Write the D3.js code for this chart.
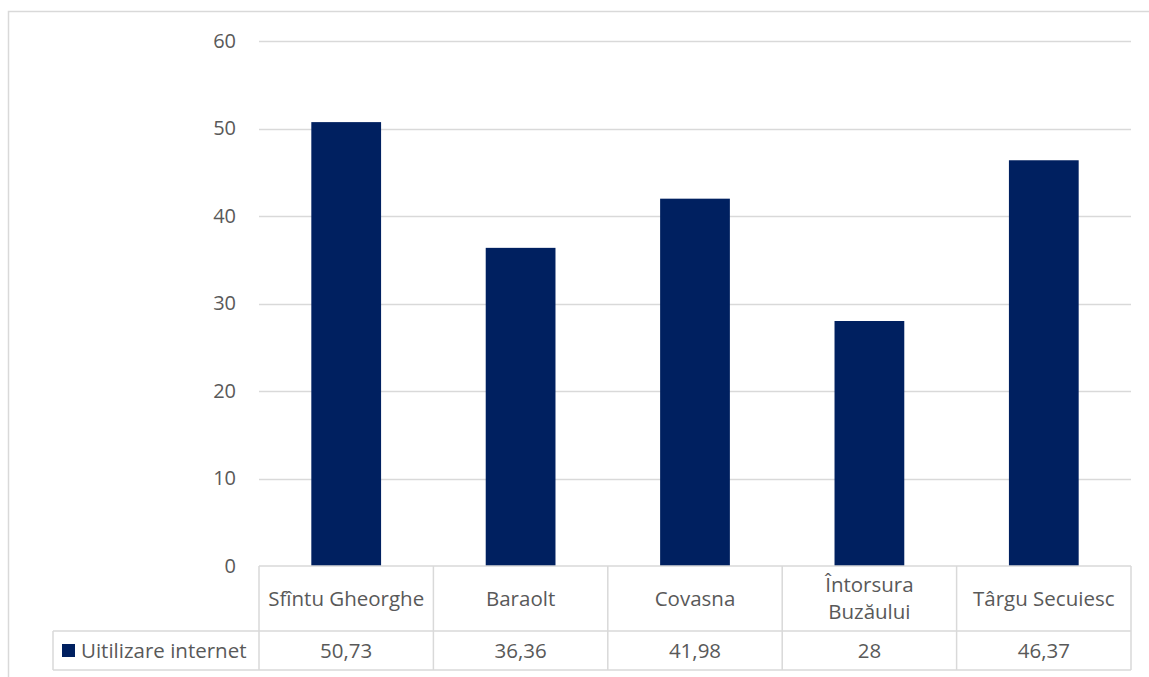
<!DOCTYPE html>
<html><head><meta charset="utf-8">
<script src="https://cdn.jsdelivr.net/npm/d3@7"></script>
<style>body{margin:0;background:#fff;} svg{display:block;}</style>
</head><body>
<script>
const categories = ["Sfîntu Gheorghe", "Baraolt", "Covasna", "Întorsura Buzăului", "Târgu Secuiesc"];
const categoryLines = [["Sfîntu Gheorghe"], ["Baraolt"], ["Covasna"], ["Întorsura", "Buzăului"], ["Târgu Secuiesc"]];
const seriesName = "Uitilizare internet";
const values = [50.73, 36.36, 41.98, 28, 46.37];
const valueLabels = ["50,73", "36,36", "41,98", "28", "46,37"];
const yTicks = [0, 10, 20, 30, 40, 50, 60];

const W = 1149, H = 677;
const font = "'Open Sans', sans-serif";
const textColor = "#595959";
const gridColor = "#d9d9d9";
const barColor = "#002060";
const fs = 20.5;

const svg = d3.select("body").append("svg").attr("width", W).attr("height", H);

// outer chart border
svg.append("rect").attr("x", 8.5).attr("y", 11.5).attr("width", W + 20).attr("height", H + 20)
  .attr("fill", "none").attr("stroke", gridColor).attr("stroke-width", 1.5);

const x = d3.scaleBand().domain(categories).range([259, 1131]).paddingInner(0.6).paddingOuter(0.3);
const xb = d3.scaleBand().domain(categories).range([259, 1131]);
const y = d3.scaleLinear().domain([0, 60]).range([566, 41]);

// gridlines
svg.append("g").selectAll("line").data(yTicks.filter(d => d > 0)).join("line")
  .attr("x1", 259).attr("x2", 1131)
  .attr("y1", d => Math.round(y(d)) + 0.5).attr("y2", d => Math.round(y(d)) + 0.5)
  .attr("stroke", gridColor).attr("stroke-width", 1.5);

// y axis labels
const yAxis = d3.axisLeft(y).tickValues(yTicks).tickSize(0).tickPadding(23);
const ya = svg.append("g").attr("transform", "translate(259,0)").call(yAxis);
ya.select(".domain").remove();
ya.selectAll("text").attr("font-family", font).attr("font-size", 20).attr("fill", textColor);

// bars
svg.append("g").selectAll("rect").data(values).join("rect")
  .attr("x", (d, i) => x(categories[i]))
  .attr("width", x.bandwidth())
  .attr("y", d => y(d))
  .attr("height", d => y(0) - y(d))
  .attr("fill", barColor);

// data table
const tTop = 566, tMid = 631, tBot = 670, legLeft = 53;
const tbl = svg.append("g").attr("stroke", gridColor).attr("stroke-width", 1.5).attr("fill", "none");
tbl.append("line").attr("x1", 259).attr("x2", 1131).attr("y1", tTop).attr("y2", tTop);
tbl.append("line").attr("x1", legLeft).attr("x2", 1131).attr("y1", tMid).attr("y2", tMid);
tbl.append("line").attr("x1", legLeft).attr("x2", 1131).attr("y1", tBot).attr("y2", tBot);
tbl.append("line").attr("x1", legLeft).attr("x2", legLeft).attr("y1", tMid).attr("y2", tBot);
const edges = categories.map(c => xb(c)).concat([1131]);
tbl.selectAll(".v").data(edges).join("line")
  .attr("x1", d => d).attr("x2", d => d).attr("y1", tTop).attr("y2", tBot);

// category labels
const cl = svg.append("g").attr("font-family", font).attr("font-size", fs).attr("fill", textColor).attr("text-anchor", "middle");
categoryLines.forEach((lines, i) => {
  const cx = xb(categories[i]) + xb.bandwidth() / 2;
  const cy = (tTop + tMid) / 2;
  const lh = 27;
  lines.forEach((ln, j) => {
    cl.append("text").attr("x", cx)
      .attr("y", cy + (j - (lines.length - 1) / 2) * lh)
      .attr("dy", "0.35em").text(ln);
  });
});

// values row
svg.append("g").selectAll("text").data(valueLabels).join("text")
  .attr("x", (d, i) => xb(categories[i]) + xb.bandwidth() / 2)
  .attr("y", (tMid + tBot) / 2).attr("dy", "0.35em")
  .attr("text-anchor", "middle").attr("font-family", font).attr("font-size", fs).attr("fill", textColor)
  .text(d => d);

// legend key
svg.append("rect").attr("x", 62).attr("y", 644).attr("width", 13).attr("height", 13).attr("fill", barColor);
svg.append("text").attr("x", 81).attr("y", (tMid + tBot) / 2).attr("dy", "0.35em")
  .attr("font-family", font).attr("font-size", fs).attr("fill", textColor).text(seriesName);
</script>
</body></html>
